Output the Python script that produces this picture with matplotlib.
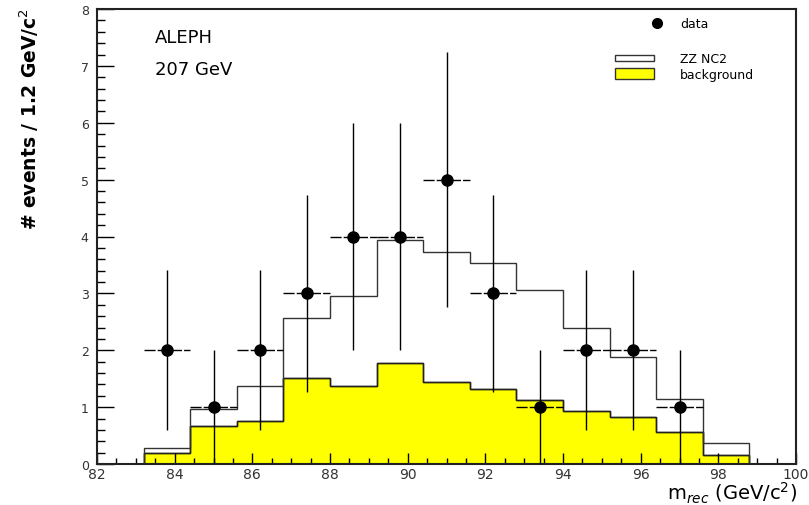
import matplotlib
matplotlib.use("Agg")
import matplotlib.pyplot as plt
from matplotlib.ticker import MultipleLocator
from matplotlib.patches import Rectangle
import numpy as np

# bin edges in GeV/c^2 (1.2 GeV bins)
edges = [83.2, 84.4, 85.6, 86.8, 88.0, 89.2, 90.4, 91.6, 92.8, 94.0, 95.2, 96.4, 97.6, 98.8]

# background and ZZ NC2 (stacked total) per bin
background = [0.20, 0.66, 0.76, 1.51, 1.38, 1.78, 1.44, 1.31, 1.12, 0.94, 0.82, 0.57, 0.16]
total_zz = [0.28, 0.97, 1.37, 2.56, 2.95, 3.94, 3.73, 3.54, 3.06, 2.40, 1.89, 1.15, 0.37]

# data points
data_x = [83.8, 85.0, 86.2, 87.4, 88.6, 89.8, 91.0, 92.2, 93.4, 94.6, 95.8, 97.0]
data_y = [2, 1, 2, 3, 4, 4, 5, 3, 1, 2, 2, 1]
data_err = [1.41, 1.0, 1.41, 1.73, 2.0, 2.0, 2.24, 1.73, 1.0, 1.41, 1.41, 1.0]
data_xerr = 0.6

fig = plt.figure(figsize=(8.09, 5.06), dpi=100)
ax = fig.add_axes([97 / 809, 41 / 506, 699 / 809, 455 / 506])

ax.stairs(background, edges, fill=True, facecolor="#ffff00", edgecolor="black", linewidth=1.0)
ax.stairs(background, edges, fill=False, edgecolor="#222222", linewidth=1.0)
ax.stairs(total_zz, edges, fill=False, edgecolor="#333333", linewidth=1.0)

eb = ax.errorbar(data_x, data_y, xerr=data_xerr, yerr=data_err, fmt="o", color="black",
                 ms=8, capsize=0, elinewidth=1.0, zorder=5)
# horizontal bars look dashed in the original
eb[2][0].set_linestyle((0, (8, 1.5)))

ax.set_xlim(82, 100)
ax.set_ylim(0, 8)
ax.xaxis.set_major_locator(MultipleLocator(2))
ax.xaxis.set_minor_locator(MultipleLocator(0.5))
ax.yaxis.set_major_locator(MultipleLocator(1))
ax.yaxis.set_minor_locator(MultipleLocator(0.2))
ax.tick_params(axis="y", which="major", direction="in", length=12, width=1, pad=6,
               labelsize=9, labelcolor="#333333")
ax.tick_params(axis="y", which="minor", direction="in", length=6, width=1)
ax.tick_params(axis="x", which="major", direction="in", length=8, width=1, pad=2,
               labelsize=10, labelcolor="#333333")
ax.tick_params(axis="x", which="minor", direction="in", length=4, width=1)
for s in ax.spines.values():
    s.set_linewidth(1.5)
    s.set_color("#222222")

# text
ax.text(0.083, 0.938, "ALEPH", transform=ax.transAxes, fontsize=13, va="center", ha="left")
ax.text(0.083, 0.868, "207 GeV", transform=ax.transAxes, fontsize=13, va="center", ha="left")

# legend drawn by hand
ax.plot([0.801], [0.969], "o", color="black", ms=7, transform=ax.transAxes, clip_on=False)
ax.text(0.834, 0.969, "data", transform=ax.transAxes, fontsize=9, va="center")
ax.add_patch(Rectangle((0.741, 0.885), 0.056, 0.013, transform=ax.transAxes,
                       facecolor="white", edgecolor="#333333", linewidth=1))
ax.text(0.834, 0.891, "ZZ NC2", transform=ax.transAxes, fontsize=9, va="center")
ax.add_patch(Rectangle((0.741, 0.846), 0.056, 0.024, transform=ax.transAxes,
                       facecolor="#ffff00", edgecolor="#333333", linewidth=1))
ax.text(0.834, 0.856, "background", transform=ax.transAxes, fontsize=9, va="center")

fig.text(0.036, 0.765, "# events / 1.2 GeV/c$^2$", rotation=90, fontsize=13.5,
         fontweight="bold", ha="center", va="center")
fig.text(0.985, 0.0, "m$_{rec}$ (GeV/c$^2$)", fontsize=14, ha="right", va="bottom")

fig.savefig("out.png", dpi=100)
